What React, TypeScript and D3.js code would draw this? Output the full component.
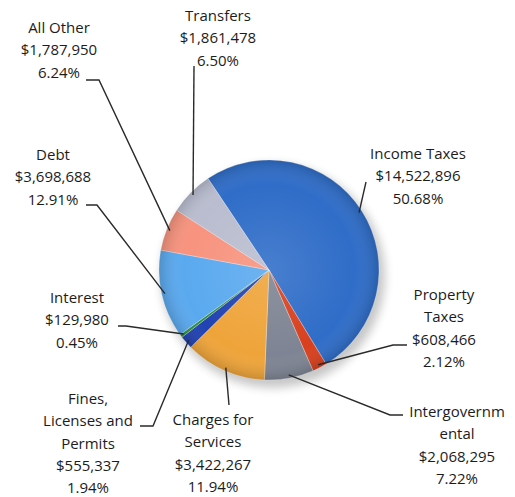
import React, { useRef, useEffect } from 'react';
import * as d3 from 'd3';

// Slice order clockwise from the Income Taxes start edge
const categories = [
  'Income Taxes', 'Property Taxes', 'Intergovernmental', 'Charges for Services',
  'Fines, Licenses and Permits', 'Interest', 'Debt', 'All Other', 'Transfers'
];
const amounts = [14522896, 608466, 2068295, 3422267, 555337, 129980, 3698688, 1787950, 1861478];
const percents = ['50.68%', '2.12%', '7.22%', '11.94%', '1.94%', '0.45%', '12.91%', '6.24%', '6.50%'];
// label lines as printed on the chart
const nameLines = [
  ['Income Taxes'], ['Property', 'Taxes'], ['Intergovernm', 'ental'], ['Charges for', 'Services'],
  ['Fines,', 'Licenses and', 'Permits'], ['Interest'], ['Debt'], ['All Other'], ['Transfers']
];
const colors = ['#2f6dc8', '#d8401e', '#7e8493', '#efa43a', '#2142b2', '#2b8f3c', '#5aa9ef', '#f7937e', '#b9bdcf'];

// label placement: text centre x, first baseline y, leader polyline points (label side)
const labelLayout = [
  { x: 418, y: 159, path: [[366, 182]] },
  { x: 444, y: 300, path: [[407, 345], [393, 345]] },
  { x: 457, y: 417, path: [[403, 415], [390, 415]] },
  { x: 213, y: 425, path: [[229, 405]] },
  { x: 88, y: 404, path: [[140, 426], [153, 426]] },
  { x: 77, y: 303, path: [[118, 326], [126, 326]] },
  { x: 53, y: 160, path: [[86, 205], [97, 205]] },
  { x: 59, y: 33, path: [[86, 80], [99, 80]] },
  { x: 218, y: 21, path: [[194, 66]] }
];

const WIDTH = 515;
const HEIGHT = 497;
const cx = 269;
const cy = 270;
const R = 110;
const startDeg = -33.7;

const fmt = d3.format('$,');

const App: React.FC = () => {
  const svgRef = useRef<SVGSVGElement>(null);

  useEffect(() => {
    if (!svgRef.current) return;
    const svg = d3.select(svgRef.current);
    svg.selectAll('*').remove();

    const defs = svg.append('defs');

    // soft shadow under the pie
    const shadow = defs.append('filter').attr('id', 'pie-shadow')
      .attr('x', '-20%').attr('y', '-20%').attr('width', '140%').attr('height', '140%');
    shadow.append('feGaussianBlur').attr('stdDeviation', 5);

    // shading to give the slices a rounded look
    const shade = defs.append('radialGradient').attr('id', 'pie-shade')
      .attr('cx', '50%').attr('cy', '50%').attr('r', '50%');
    shade.append('stop').attr('offset', '0%').attr('stop-color', '#fff').attr('stop-opacity', 0.12);
    shade.append('stop').attr('offset', '78%').attr('stop-color', '#fff').attr('stop-opacity', 0.0);
    shade.append('stop').attr('offset', '100%').attr('stop-color', '#000').attr('stop-opacity', 0.15);

    const pie = d3.pie<number>()
      .sort(null)
      .value(d => d)
      .startAngle((startDeg * Math.PI) / 180)
      .endAngle(((startDeg + 360) * Math.PI) / 180);
    const arcs = pie(amounts);

    const arc = d3.arc<d3.PieArcDatum<number>>().innerRadius(0).outerRadius(R);
    const edgeArc = d3.arc<d3.PieArcDatum<number>>().innerRadius(R * 0.97).outerRadius(R * 0.97);

    const g = svg.append('g').attr('transform', `translate(${cx},${cy})`);

    g.append('ellipse')
      .attr('cx', 4).attr('cy', 6).attr('rx', R + 2).attr('ry', R + 2)
      .attr('fill', '#000').attr('opacity', 0.22)
      .attr('filter', 'url(#pie-shadow)');

    g.selectAll('path.slice')
      .data(arcs)
      .join('path')
      .attr('class', 'slice')
      .attr('d', arc)
      .attr('fill', (_, i) => colors[i])
      .attr('stroke', '#ffffff')
      .attr('stroke-opacity', 0.5)
      .attr('stroke-width', 0.6);

    g.append('circle').attr('r', R).attr('fill', 'url(#pie-shade)');

    // leader lines
    const lines = svg.append('g');
    arcs.forEach((a, i) => {
      const [ex, ey] = edgeArc.centroid(a);
      const pts = [...labelLayout[i].path, [cx + ex, cy + ey]] as [number, number][];
      lines.append('path')
        .attr('d', d3.line()(pts))
        .attr('fill', 'none')
        .attr('stroke', '#2a2a2a')
        .attr('stroke-width', 1.4);
    });

    // labels
    const labels = svg.append('g')
      .attr('font-family', '"Open Sans", "Noto Sans", sans-serif')
      .attr('font-size', 15)
      .attr('fill', '#1c1c1c')
      .attr('text-anchor', 'middle');
    categories.forEach((_, i) => {
      const lay = labelLayout[i];
      const rows = [...nameLines[i], fmt(amounts[i]), percents[i]];
      const t = labels.append('text').attr('x', lay.x).attr('y', lay.y);
      rows.forEach((r, k) => {
        t.append('tspan').attr('x', lay.x).attr('y', lay.y + k * 22.3).text(r);
      });
    });
  }, []);

  return (
    <svg
      ref={svgRef}
      width={WIDTH}
      height={HEIGHT}
      style={{ position: 'absolute', left: 0, top: 0, background: '#fff' }}
    />
  );
};

export default App;
